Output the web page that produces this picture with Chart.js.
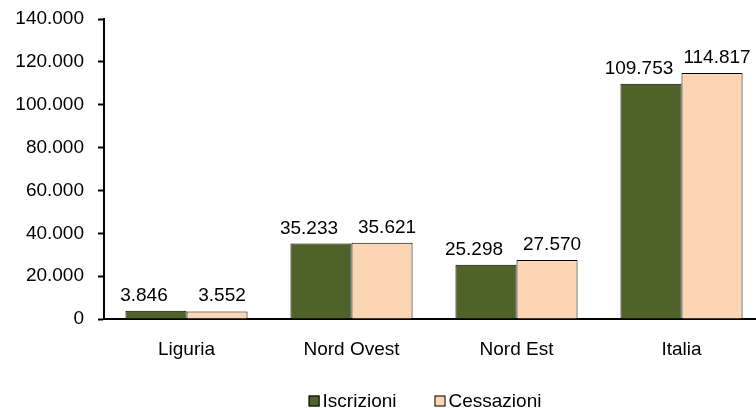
<!DOCTYPE html>
<html>
<head>
<meta charset="utf-8">
<script src="https://cdn.jsdelivr.net/npm/chart.js@4"></script>
<style>
  html, body { margin: 0; padding: 0; background: #fff; overflow: hidden; }
  #wrap { position: relative; width: 764px; height: 421px; }
</style>
</head>
<body>
<div id="wrap"><canvas id="grafico"></canvas></div>
<script>
const categorie = ["Liguria", "Nord Ovest", "Nord Est", "Italia"];
const iscrizioni = [3846, 35233, 25298, 109753];
const cessazioni = [3552, 35621, 27570, 114817];

/* =========================
  Helper
========================= */
function formatNumero(n) {
  return String(Math.round(n)).replace(/\B(?=(\d{3})+(?!\d))/g, ".");
}

const FONT = "'Liberation Sans', Arial, sans-serif";
const SIZE = 19;

/* etichette sopra le barre (spostate come in Excel per non sovrapporsi) */
const spostamento = [-12, 5];
const etichette = {
  id: "etichette",
  afterDatasetsDraw(chart) {
    const c = chart.ctx;
    c.save();
    c.font = SIZE + "px " + FONT;
    c.fillStyle = "#000";
    c.textAlign = "center";
    c.textBaseline = "alphabetic";
    chart.data.datasets.forEach((ds, i) => {
      chart.getDatasetMeta(i).data.forEach((bar, j) => {
        c.fillText(formatNumero(ds.data[j]), bar.x + spostamento[i], bar.y - 10);
      });
    });
    c.restore();
  }
};

/* legenda in basso, stile Excel (quadratino vicino al testo) */
const legenda = {
  id: "legenda",
  afterDraw(chart) {
    const c = chart.ctx;
    const box = 11, gapTesto = 3, gapVoci = 38;
    c.save();
    c.font = SIZE + "px " + FONT;
    c.textBaseline = "middle";
    const voci = chart.data.datasets.map(ds => ({
      testo: ds.label,
      colore: ds.backgroundColor,
      w: box + gapTesto + c.measureText(ds.label).width
    }));
    const totale = voci.reduce((s, v) => s + v.w, 0) + gapVoci * (voci.length - 1);
    const area = chart.chartArea;
    let x = (area.left + area.right) / 2 - 9 - totale / 2;
    const y = chart.height - 20;
    voci.forEach(v => {
      c.fillStyle = v.colore;
      c.fillRect(x, y - box / 2, box, box);
      c.strokeStyle = "#000";
      c.lineWidth = 1;
      c.strokeRect(x + 0.5, y - box / 2 + 0.5, box - 1, box - 1);
      c.fillStyle = "#000";
      c.fillText(v.testo, x + box + gapTesto, y + 1);
      x += v.w + gapVoci;
    });
    c.restore();
  }
};

new Chart(document.getElementById("grafico"), {
  type: "bar",
  data: {
    labels: categorie,
    datasets: [
      {
        label: "Iscrizioni",
        data: iscrizioni,
        backgroundColor: "#4F6228",
        borderColor: "#000",
        borderWidth: 1
      },
      {
        label: "Cessazioni",
        data: cessazioni,
        backgroundColor: "#FCD5B5",
        borderColor: "#000",
        borderWidth: 1
      }
    ]
  },
  options: {
    responsive: true,
    maintainAspectRatio: false,
    animation: false,
    layout: { padding: { top: 19, left: 0, right: 0, bottom: 37 } },
    datasets: {
      bar: { categoryPercentage: 0.74, barPercentage: 1.0 }
    },
    plugins: {
      legend: { display: false },
      tooltip: { enabled: false }
    },
    scales: {
      x: {
        grid: { display: false },
        border: { color: "#000", width: 2 },
        ticks: { font: { family: FONT, size: SIZE }, color: "#000", padding: 11 },
        afterFit: s => { s.height = 65; }
      },
      y: {
        min: 0,
        max: 140000,
        ticks: {
          stepSize: 20000,
          font: { family: FONT, size: SIZE },
          color: "#000",
          padding: 14,
          callback: v => formatNumero(v)
        },
        grid: { drawOnChartArea: false, color: "#000", tickLength: 6, tickWidth: 2 },
        border: { color: "#000", width: 2 },
        afterFit: s => { s.width = 104; s.paddingTop = 0; s.paddingBottom = 0; }
      }
    }
  },
  plugins: [etichette, legenda]
});
</script>
</body>
</html>
